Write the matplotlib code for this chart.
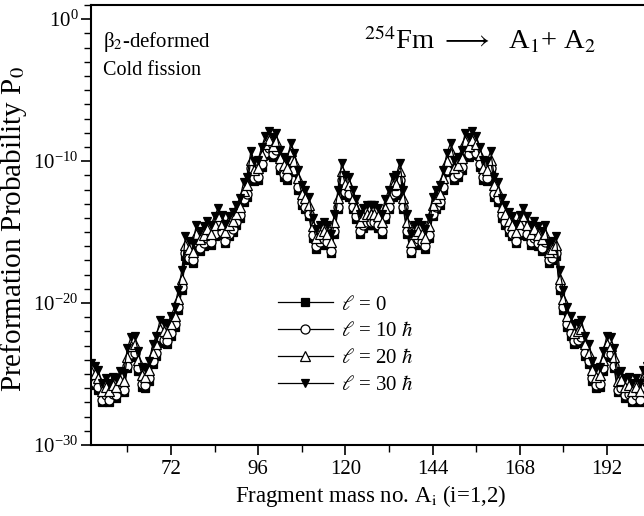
import numpy as np
import matplotlib
matplotlib.use("Agg")
import matplotlib.pyplot as plt
from matplotlib.ticker import FixedLocator, NullFormatter

plt.rcParams['font.family'] = ['Liberation Serif', 'DejaVu Serif']
plt.rcParams['mathtext.fontset'] = 'stix'

# light fragment mass A1 (the heavy partner is A2 = 254 - A1, same P0)
mass_light = list(range(50, 128))

# log10(P0) for each angular momentum
logp_l30 = [-24.2, -24.4, -24.7, -25.6, -25.3, -25.6, -25.2, -25.3, -24.8, -24.9,
            -23.2, -22.4, -22.3, -23.4, -24.5, -24.6, -24.1, -22.9, -22.3, -21.2,
            -21.4, -21.5, -20.9, -20.3, -19.1, -17.7, -15.3, -15.6, -15.8, -14.5,
            -14.9, -14.6, -14.2, -14.5, -13.9, -13.3, -13.8, -14.4, -13.9, -13.6,
            -13.1, -12.6, -11.5, -11.1, -9.3, -10.0, -9.9, -9.0, -8.2, -7.9,
            -8.3, -8.0, -9.2, -9.7, -9.9, -8.7, -9.4, -10.6, -11.7, -12.0,
            -12.5, -14.0, -14.8, -14.5, -14.3, -14.5, -15.1, -13.7, -12.0, -10.1,
            -11.0, -11.1, -12.0, -12.7, -13.7, -13.3, -13.1, -13.1]

logp_l20 = [-24.8, -25.0, -25.3, -26.2, -25.9, -26.2, -25.8, -25.9, -25.4, -25.5,
            -23.8, -23.0, -22.9, -24.0, -25.1, -25.2, -24.7, -23.5, -22.9, -21.8,
            -22.0, -22.1, -21.5, -20.9, -19.7, -18.3, -15.9, -16.2, -16.4, -15.1,
            -15.5, -15.2, -14.8, -15.1, -14.5, -13.9, -14.4, -15.0, -14.5, -14.2,
            -13.7, -13.2, -12.1, -11.7, -9.9, -10.6, -10.5, -9.6, -8.8, -8.5,
            -8.9, -8.6, -9.8, -10.3, -10.5, -9.3, -10.0, -11.2, -12.3, -12.6,
            -13.1, -14.6, -15.4, -15.1, -14.9, -15.1, -15.7, -14.3, -12.6, -10.7,
            -11.6, -11.7, -12.6, -13.3, -14.3, -13.9, -13.7, -13.7]

logp_l10 = [-25.4, -25.6, -25.9, -26.8, -26.5, -26.8, -26.4, -26.5, -26.0, -26.1,
            -24.4, -23.6, -23.5, -24.6, -25.7, -25.8, -25.3, -24.1, -23.5, -22.4,
            -22.6, -22.7, -22.1, -21.5, -20.3, -18.9, -16.5, -16.8, -17.0, -15.7,
            -16.1, -15.8, -15.4, -15.7, -15.1, -14.5, -15.0, -15.6, -15.1, -14.8,
            -14.3, -13.8, -12.7, -12.3, -10.5, -11.2, -11.1, -10.2, -9.4, -9.1,
            -9.5, -9.2, -10.4, -10.9, -11.1, -9.9, -10.6, -11.8, -12.9, -13.2,
            -13.7, -15.2, -16.0, -15.7, -15.5, -15.7, -16.3, -14.9, -13.2, -11.3,
            -12.2, -12.3, -13.2, -13.9, -14.9, -14.5, -14.3, -14.3]

logp_l0 = [-25.6, -25.8, -26.1, -27.0, -26.7, -27.0, -26.6, -26.7, -26.2, -26.3,
           -24.6, -23.8, -23.7, -24.8, -25.9, -26.0, -25.5, -24.3, -23.7, -22.6,
           -22.8, -22.9, -22.3, -21.7, -20.5, -19.1, -16.7, -17.0, -17.2, -15.9,
           -16.3, -16.0, -15.6, -15.9, -15.3, -14.7, -15.2, -15.8, -15.3, -15.0,
           -14.5, -14.0, -12.9, -12.5, -10.7, -11.4, -11.3, -10.4, -9.6, -9.3,
           -9.7, -9.4, -10.6, -11.1, -11.3, -10.1, -10.8, -12.0, -13.1, -13.4,
           -13.9, -15.4, -16.2, -15.9, -15.7, -15.9, -16.5, -15.1, -13.4, -11.5,
           -12.4, -12.5, -13.4, -14.1, -15.1, -14.7, -14.5, -14.5]

labels = [r'$\ell$ = 0', r'$\ell$ = 10 $\hbar$', r'$\ell$ = 20 $\hbar$', r'$\ell$ = 30 $\hbar$']

A_parent = 254

fig = plt.figure(figsize=(6.44, 5.16), dpi=100)
ax = fig.add_axes([91 / 644, 1 - 445 / 516, 559.5 / 644, 440 / 516])


def both_fragments(logp):
    # light fragments then heavy partners, joined into one curve
    a1 = np.array(mass_light)
    a2 = A_parent - a1
    x = np.concatenate([a1, a2[::-1]])
    y = np.concatenate([logp, logp[::-1]])
    return x, 10.0 ** y


styles = [
    dict(marker='s', mfc='black', ms=5.5),
    dict(marker='o', mfc='white', ms=6.5),
    dict(marker='^', mfc='white', ms=7),
    dict(marker='v', mfc='black', ms=6),
]
series = [logp_l0, logp_l10, logp_l20, logp_l30]

for logp, st, lab in zip(series, styles, labels):
    x, y = both_fragments(logp)
    ax.plot(x, y, color='black', lw=0.9, mec='black', mew=0.9, label=lab, **st)

ax.set_yscale('log')
ax.set_xlim(50, 204)
ax.set_ylim(1e-30, 1e1)

ax.xaxis.set_major_locator(FixedLocator([72, 96, 120, 144, 168, 192]))
ax.xaxis.set_minor_locator(FixedLocator([60, 84, 108, 132, 156, 180]))
ax.yaxis.set_major_locator(FixedLocator([1e-30, 1e-20, 1e-10, 1e0]))
ax.yaxis.set_minor_locator(FixedLocator([10.0 ** k for k in range(-30, 2)]))
ax.yaxis.set_minor_formatter(NullFormatter())

ax.tick_params(axis='both', which='major', direction='out', length=7, width=1.2,
               labelsize=15, top=False, right=False)
ax.tick_params(axis='y', which='major', labelsize=15, pad=2)
ax.tick_params(axis='both', which='minor', direction='out', length=5, width=1.0,
               top=False, right=False)
for s in ax.spines.values():
    s.set_linewidth(1.5)

ax.set_xlabel(r'Fragment mass no. A$_{\rm i}$ (i=1,2)', fontsize=16.5, labelpad=3)
ax.set_ylabel(r'Preformation Probability P$_0$', fontsize=21)
ax.yaxis.set_label_coords(-0.11, 0.49)

ax.text(0.022, 0.905, 'β$_2$-deformed', transform=ax.transAxes, fontsize=15)
ax.text(0.022, 0.84, 'Cold fission', transform=ax.transAxes, fontsize=14.5)
ax.text(0.488, 0.9, r'$^{254}$Fm $\longrightarrow$  A$_1$+ A$_2$',
        transform=ax.transAxes, fontsize=20.5)

ax.legend(loc='upper left', bbox_to_anchor=(0.32, 0.36), frameon=False,
          fontsize=15, handlelength=2.6, labelspacing=0.35, handletextpad=0.4,
          borderaxespad=0)

fig.savefig('out.png', dpi=100)
